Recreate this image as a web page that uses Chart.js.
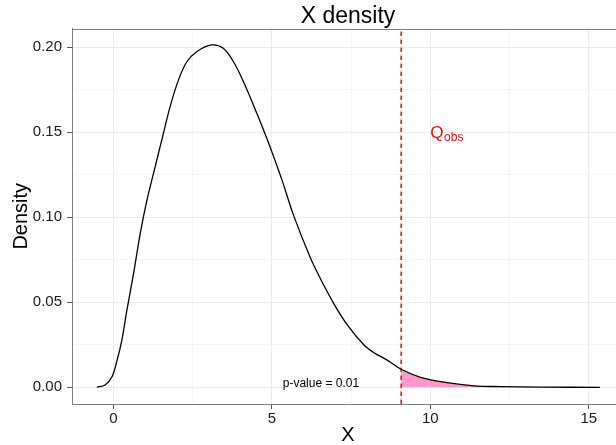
<!DOCTYPE html>
<html>
<head>
<meta charset="utf-8">
<script src="https://cdn.jsdelivr.net/npm/chart.js@4"></script>
<style>
  html, body { margin: 0; padding: 0; background: #fff; overflow: hidden; }
  #wrap { width: 616px; height: 445px; overflow: hidden; }
</style>
</head>
<body>
<div id="wrap"><canvas id="densityChart" width="624" height="445"></canvas></div>
<script>
// density curve
const densX = [-0.52, -0.26, -0.04, 0.12, 0.27, 0.43, 0.64, 0.85, 1.06, 1.27, 1.53, 1.79, 2.06, 2.32, 2.63, 3.10, 3.47, 3.79, 4.10, 4.53, 4.85, 5.11, 5.32, 5.69, 6.22, 6.53, 6.95, 7.37, 7.90, 8.21, 8.64, 9.08, 9.69, 10.53, 11.38, 12.22, 13.50, 15.35];
const densY = [0, 0.0014, 0.0062, 0.016, 0.0278, 0.0455, 0.067, 0.0906, 0.110, 0.126, 0.1455, 0.165, 0.181, 0.1915, 0.1974, 0.2014, 0.1994, 0.1915, 0.180, 0.161, 0.146, 0.133, 0.122, 0.101, 0.076, 0.064, 0.0494, 0.037, 0.025, 0.0205, 0.016, 0.0106, 0.0059, 0.0027, 0.0009, 0.0004, 0.0001, 0];

const qObs = 9.08;
const pValue = 0.01;

const xMajor = [0, 5, 10, 15];
const xMinor = [2.5, 7.5, 12.5];
const yMajor = [0, 0.05, 0.10, 0.15, 0.20];
const yMinor = [0.025, 0.075, 0.125, 0.175];

const xRange = [-1.303, 16.11];
const yRange = [-0.00982, 0.21106];

const curvePts = densX.map((x, i) => ({ x: x, y: densY[i] }));
const tailPts = curvePts.filter(p => p.x >= qObs && p.x <= 13.5);
const qLine = [{ x: qObs, y: yRange[0] }, { x: qObs, y: yRange[1] }];

const FONT = "'Liberation Sans', Arial, Helvetica, sans-serif";

function isMajor(list, v) {
    return list.some(m => Math.abs(m - v) < 1e-9);
}

const extras = {
    id: "extras",
    afterDatasetsDraw(chart) {
        const { ctx, chartArea, scales } = chart;
        ctx.save();
        // panel top border
        ctx.strokeStyle = "#7f7f7f";
        ctx.lineWidth = 1;
        ctx.beginPath();
        ctx.moveTo(chartArea.left, Math.round(chartArea.top) + 0.5);
        ctx.lineTo(chartArea.right, Math.round(chartArea.top) + 0.5);
        ctx.stroke();

        // p-value label
        ctx.fillStyle = "#000";
        ctx.font = "12px " + FONT;
        ctx.textAlign = "center";
        ctx.textBaseline = "alphabetic";
        ctx.fillText("p-value = " + pValue.toFixed(2), scales.x.getPixelForValue(6.55), scales.y.getPixelForValue(0.0025) + 4);

        // Q_obs label
        const qx = scales.x.getPixelForValue(10.0);
        const qy = scales.y.getPixelForValue(0.1465);
        ctx.fillStyle = "#ff0000";
        ctx.textAlign = "left";
        ctx.font = "17px " + FONT;
        ctx.fillText("Q", qx, qy);
        const qw = ctx.measureText("Q").width;
        ctx.font = "12px " + FONT;
        ctx.fillText("obs", qx + qw + 0.5, qy + 3);
        ctx.restore();
    }
};

const ctx = document.getElementById("densityChart").getContext("2d");

let chart = new Chart(ctx, {
    type: "line",
    data: {
        datasets: [
            {
                data: curvePts,
                borderColor: "#000",
                borderWidth: 1.3,
                pointRadius: 0,
                tension: 0.35,
                fill: false,
                order: 0
            },
            {
                data: qLine,
                borderColor: "#ff0000",
                borderWidth: 1.5,
                borderDash: [4.5, 3.5],
                pointRadius: 0,
                fill: false,
                order: 1
            },
            {
                data: tailPts,
                borderWidth: 0,
                borderColor: "rgba(0,0,0,0)",
                backgroundColor: "#ff99cc",
                pointRadius: 0,
                tension: 0.35,
                fill: "origin",
                order: 2
            }
        ]
    },
    options: {
        responsive: false,
        animation: false,
        layout: { padding: 0 },
        plugins: {
            legend: { display: false },
            tooltip: { enabled: false },
            title: {
                display: true,
                text: "X density",
                fullSize: false,
                color: "#000",
                font: { family: FONT, size: 23, weight: "normal", lineHeight: 1 },
                padding: { top: 5.5, bottom: 0 }
            }
        },
        scales: {
            x: {
                type: "linear",
                min: xRange[0],
                max: xRange[1],
                afterBuildTicks: s => { s.ticks = xMajor.concat(xMinor).sort((a, b) => a - b).map(v => ({ value: v })); },
                afterFit: s => { s.height = 41; },
                ticks: {
                    autoSkip: false,
                    maxRotation: 0,
                    padding: 1,
                    color: "#1a1a1a",
                    font: { family: FONT, size: 15 },
                    callback: v => isMajor(xMajor, v) ? String(v) : ""
                },
                grid: {
                    color: c => isMajor(xMajor, c.tick.value) ? "#ebebeb" : "#f5f5f5",
                    tickColor: c => isMajor(xMajor, c.tick.value) ? "#555" : "rgba(0,0,0,0)",
                    tickLength: 5
                },
                border: { display: true, color: "#7f7f7f", width: 1 },
                title: {
                    display: true,
                    text: "X",
                    color: "#000",
                    font: { family: FONT, size: 20, lineHeight: 1 },
                    padding: { top: 0, bottom: 0 }
                }
            },
            y: {
                type: "linear",
                min: yRange[0],
                max: yRange[1],
                afterBuildTicks: s => { s.ticks = yMajor.concat(yMinor).sort((a, b) => a - b).map(v => ({ value: v })); },
                afterFit: s => { s.width = 72; },
                ticks: {
                    autoSkip: false,
                    padding: 5,
                    color: "#1a1a1a",
                    font: { family: FONT, size: 15 },
                    callback: v => isMajor(yMajor, v) ? v.toFixed(2) : ""
                },
                grid: {
                    color: c => isMajor(yMajor, c.tick.value) ? "#ebebeb" : "#f5f5f5",
                    tickColor: c => isMajor(yMajor, c.tick.value) ? "#555" : "rgba(0,0,0,0)",
                    tickLength: 5
                },
                border: { display: true, color: "#7f7f7f", width: 1 },
                title: {
                    display: true,
                    text: "Density",
                    color: "#000",
                    font: { family: FONT, size: 20, lineHeight: 1 },
                    padding: { top: 11, bottom: 0 }
                }
            }
        }
    },
    plugins: [extras]
});
</script>
</body>
</html>
